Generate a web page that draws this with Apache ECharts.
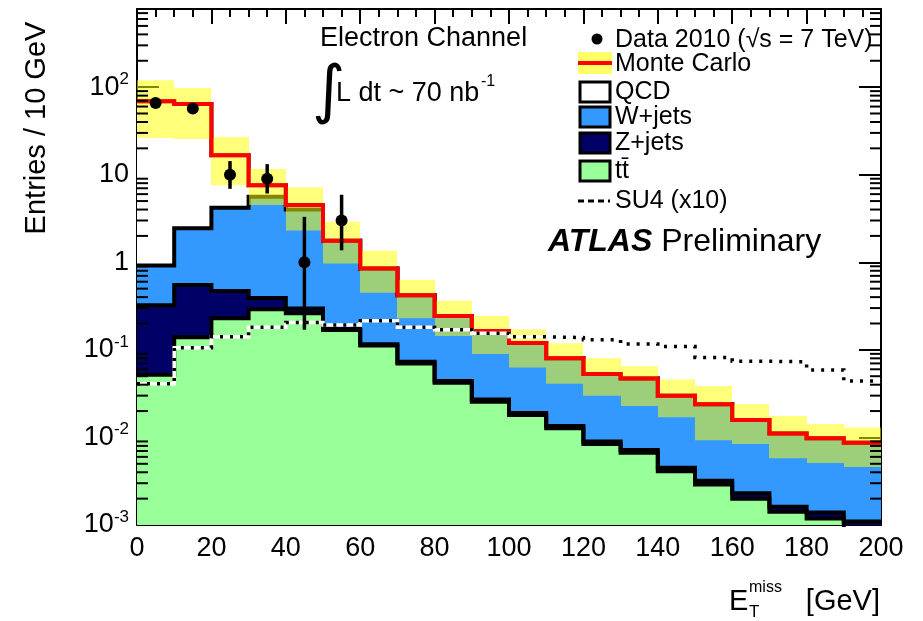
<!DOCTYPE html>
<html>
<head>
<meta charset="utf-8">
<script src="https://cdn.jsdelivr.net/npm/echarts@6/dist/echarts.min.js"></script>
<style>
  html, body { margin: 0; padding: 0; background: #fff; }
  #chart { width: 923px; height: 621px; }
</style>
</head>
<body>
<div id="chart"></div>
<script>
// Missing transverse energy, electron channel, 10 GeV bins from 0 to 200 GeV
const binStart = [0, 10, 20, 30, 40, 50, 60, 70, 80, 90, 100, 110, 120, 130, 140, 150, 160, 170, 180, 190];
const BIN_WIDTH = 10;

// Monte Carlo contributions per bin (entries / 10 GeV)
const ttbar = [0.052, 0.139, 0.229, 0.29, 0.261, 0.168, 0.112, 0.070, 0.042, 0.0256,
               0.018, 0.0127, 0.0084, 0.0067, 0.0041, 0.0029, 0.0020, 0.00142, 0.00119, 0.0008];
const zjets = [0.27, 0.41, 0.24, 0.10, 0.035, 0.006, 0.004, 0.003, 0.002, 0.0015,
               0.001, 0.0008, 0.0006, 0.0005, 0.0004, 0.0003, 0.0003, 0.0002, 0.0002, 0.0003];
const wjets = [0.595, 1.89, 3.73, 5.21, 3.70, 1.59, 0.734, 0.347, 0.199, 0.137,
               0.101, 0.0665, 0.044, 0.0398, 0.0255, 0.0208, 0.0135, 0.0095, 0.0084, 0.0076];
const qcd   = [68.1, 61.6, 12.5, 2.0, 0.5, 0, 0, 0, 0, 0,
               0, 0, 0, 0, 0, 0, 0, 0, 0, 0];

// Monte Carlo uncertainty band
const mcUp   = [120, 97.5, 27, 11.6, 7.2, 2.9, 1.35, 0.63, 0.364, 0.243,
                0.171, 0.119, 0.080, 0.065, 0.046, 0.0386, 0.024, 0.0176, 0.0142, 0.013];
const mcDown = [26.2, 25.5, 7.6, 4.5, 2.3, 0.97, 0.45, 0.23, 0.144, 0.0896,
                0.063, 0.041, 0.030, 0.0228, 0.017, 0.0093, 0.0084, 0.0058, 0.0051, 0.0046];

// SUSY benchmark SU4, scaled by 10
const su4x10 = [0.041, 0.106, 0.141, 0.181, 0.205, 0.192, 0.215, 0.181, 0.17, 0.155,
                0.141, 0.138, 0.13, 0.117, 0.109, 0.082, 0.074, 0.073, 0.059, 0.044];

// Data 2010 (bin centres, counts, 68% Poisson interval)
const dataCentre = [5, 15, 25, 35, 45, 55];
const dataCounts = [66, 57, 10, 9, 1, 3];
const dataLow    = [58, 49.5, 6.9, 6.1, 0.17, 1.37];
const dataHigh   = [75, 65, 14.3, 13.2, 3.3, 5.9];

// Axis ticks
const xTicks = [0, 20, 40, 60, 80, 100, 120, 140, 160, 180, 200];
const yTickLabels = { '0.001': ['10', '-3'], '0.01': ['10', '-2'], '0.1': ['10', '-1'],
                      '1': ['1', ''], '10': ['10', ''], '100': ['10', '2'] };

const Y_MIN = 1e-3, Y_MAX = 780;
const X_MIN = xTicks[0], X_MAX = xTicks[xTicks.length - 1];
const FONT = '"Liberation Sans", Arial, Helvetica, sans-serif';

const C_QCD = '#ffffff', C_W = '#3399ff', C_Z = '#000066', C_TT = '#99ff99';

// cumulative stack levels
const sumArr = (a, b) => a.map((v, i) => v + b[i]);
const lvlTT = ttbar;
const lvlZ = sumArr(lvlTT, zjets);
const lvlW = sumArr(lvlZ, wjets);
const lvlTot = sumArr(lvlW, qcd);

function stepPoints(vals) {
  const pts = binStart.map((x, i) => [x, vals[i]]);
  pts.push([binStart[binStart.length - 1] + BIN_WIDTH, vals[vals.length - 1]]);
  return pts;
}

function barRect(api, x0, lo, hi) {
  const a = api.coord([x0, hi]);
  const b = api.coord([x0 + BIN_WIDTH, Math.max(lo, Y_MIN)]);
  return { x: Math.round(a[0]), y: a[1], width: Math.round(b[0]) - Math.round(a[0]), height: b[1] - a[1] };
}

function fillLayer(name, base, top, fill, z) {
  return {
    type: 'custom', name, clip: true, z, silent: true, animation: false,
    encode: { x: 0, y: [1, 2] },
    data: binStart.map((x, i) => [x, base ? base[i] : Y_MIN, top[i]]),
    renderItem: (params, api) => {
      const lo = Math.max(api.value(1), Y_MIN), hi = api.value(2);
      if (!(hi > lo)) return null;
      return { type: 'rect', shape: barRect(api, api.value(0), lo, hi), style: { fill } };
    }
  };
}

function stepLine(name, vals, color, width, z, dash) {
  return {
    type: 'line', name, step: 'end', data: stepPoints(vals),
    symbol: 'none', showSymbol: false, silent: true, animation: false, clip: true, z,
    lineStyle: { color, width, type: dash || 'solid', cap: 'butt', join: 'miter' }
  };
}

// minor ticks of the log axis at 2..9 x 10^n
const logMinor = [];
for (let e = -3; e <= 2; e++) {
  for (let k = 2; k <= 9; k++) {
    const v = k * Math.pow(10, e);
    if (v < Y_MAX) logMinor.push([X_MIN, v]);
  }
}

const series = [
  fillLayer('QCD', null, lvlTot, C_QCD, 2),
  fillLayer('W+jets', null, lvlW, C_W, 3),
  fillLayer('Z+jets', null, lvlZ, C_Z, 4),
  fillLayer('ttbar', null, lvlTT, C_TT, 5),
  stepLine('QCD outline', lvlTot, '#000', 4, 6),
  stepLine('W outline', lvlW, '#000', 4, 6),
  stepLine('Z outline', lvlZ, '#000', 4, 6),
  stepLine('tt outline', lvlTT, '#000', 4, 6),
  {
    type: 'custom', name: 'MC uncertainty', clip: true, z: 7, silent: true, animation: false,
    encode: { x: 0, y: [1, 2] },
    data: binStart.map((x, i) => [x, mcDown[i], mcUp[i]]),
    renderItem: (params, api) => ({
      type: 'rect', shape: barRect(api, api.value(0), api.value(1), api.value(2)),
      style: { fill: 'rgba(255,255,0,0.52)' }
    })
  },
  stepLine('Monte Carlo', lvlTot, '#ff0000', 4, 8),
  stepLine('SU4 base', su4x10, '#ffffff', 3.5, 9),
  stepLine('SU4 (x10)', su4x10, '#000000', 3.5, 10, [3, 7]),
  {
    type: 'custom', name: 'Data 2010', clip: true, z: 11, silent: true, animation: false,
    encode: { x: 0, y: 1 },
    data: dataCentre.map((x, i) => [x, dataCounts[i], dataLow[i], dataHigh[i]]),
    renderItem: (params, api) => {
      const c = api.coord([api.value(0), api.value(1)]);
      const lo = api.coord([api.value(0), Math.max(api.value(2), Y_MIN)]);
      const hi = api.coord([api.value(0), api.value(3)]);
      return {
        type: 'group', children: [
          { type: 'line', shape: { x1: c[0], y1: lo[1], x2: c[0], y2: hi[1] }, style: { stroke: '#000', lineWidth: 3.5 } },
          { type: 'circle', shape: { cx: c[0], cy: c[1], r: 6 }, style: { fill: '#000' } }
        ]
      };
    }
  },
  {
    type: 'custom', name: 'log minor ticks', clip: false, z: 12, silent: true, animation: false,
    encode: { x: 0, y: 1 },
    data: logMinor,
    renderItem: (params, api) => {
      const l = api.coord([X_MIN, api.value(1)]);
      const r = api.coord([X_MAX, api.value(1)]);
      return {
        type: 'group', children: [
          { type: 'line', shape: { x1: l[0], y1: l[1], x2: l[0] + 11, y2: l[1] }, style: { stroke: '#000', lineWidth: 2 } },
          { type: 'line', shape: { x1: r[0], y1: r[1], x2: r[0] - 11, y2: r[1] }, style: { stroke: '#000', lineWidth: 2 } }
        ]
      };
    }
  }
];

const axisLine = { show: true, onZero: false, lineStyle: { color: '#000', width: 2 } };

const xAxisBase = {
  type: 'value', min: X_MIN, max: X_MAX, interval: 20,
  axisLine, splitLine: { show: false },
  axisTick: { show: true, inside: true, length: 15, lineStyle: { color: '#000', width: 2 } },
  minorTick: { show: true, splitNumber: 4, length: 8, lineStyle: { color: '#000', width: 2 } }
};

const yAxisBase = {
  type: 'log', logBase: 10, min: Y_MIN, max: Y_MAX, splitNumber: 6,
  axisLine, splitLine: { show: false },
  axisTick: { show: true, inside: true, length: 22, lineStyle: { color: '#000', width: 2 } }
};

function yLabel(v) {
  const key = String(+v.toPrecision(3));
  const t = yTickLabels[key];
  if (!t) return '';
  return t[1] ? '{b|' + t[0] + '}{s|' + t[1] + '}' : '{b|' + t[0] + '}';
}

function text(x, y, str, size, extra) {
  return {
    type: 'text', x, y, silent: true, z: 100,
    style: Object.assign({ text: str, fontSize: size, fontFamily: FONT, fill: '#000',
                           align: 'left', verticalAlign: 'middle' }, extra || {})
  };
}

function legendBox(y, fill) {
  return { type: 'rect', silent: true, z: 100, shape: { x: 580, y: y - 10, width: 30, height: 20 },
           style: { fill, stroke: '#000', lineWidth: 3 } };
}

const graphic = [
  // axis titles
  text(37, 128, 'Entries / 10 GeV', 29, { align: 'center' }),
  text(729, 602, 'E', 29),
  text(749, 588, 'miss', 16),
  text(749, 612, 'T', 17),
  text(880, 602, '[GeV]', 29, { align: 'right' }),
  // channel and luminosity
  text(320, 39, 'Electron Channel', 27),
  text(312, 94, '\u222B', 64, { fontFamily: '"DejaVu Sans", sans-serif' }),
  text(336, 94, 'L dt ~ 70 nb', 27),
  text(481, 82, '-1', 16),
  // legend
  { type: 'circle', silent: true, z: 100, shape: { cx: 597, cy: 39, r: 5.5 }, style: { fill: '#000' } },
  text(615, 40, 'Data 2010 (\u221As = 7 TeV)', 25),
  { type: 'rect', silent: true, z: 100, shape: { x: 578, y: 52, width: 34, height: 22 }, style: { fill: '#ffff66' } },
  { type: 'line', silent: true, z: 101, shape: { x1: 578, y1: 63, x2: 612, y2: 63 }, style: { stroke: '#ff0000', lineWidth: 4 } },
  text(615, 64, 'Monte Carlo', 25),
  legendBox(92, C_QCD), text(615, 92, 'QCD', 25),
  legendBox(117, C_W), text(615, 117, 'W+jets', 25),
  legendBox(143, C_Z), text(615, 143, 'Z+jets', 25),
  legendBox(171, C_TT), text(615, 171, 't\u0074\u0304', 25),
  { type: 'line', silent: true, z: 100, shape: { x1: 578, y1: 201, x2: 610, y2: 201 },
    style: { stroke: '#000', lineWidth: 3, lineDash: [6, 4] } },
  text(615, 201, 'SU4 (x10)', 25),
  // experiment label
  text(548, 242, '{a|ATLAS} {b|Preliminary}', 32, {
    rich: {
      a: { fontSize: 32, fontFamily: FONT, fontWeight: 'bold', fontStyle: 'italic', fill: '#000' },
      b: { fontSize: 32, fontFamily: FONT, fill: '#000' }
    }
  })
];
// rotate y-axis title
graphic[0].rotation = Math.PI / 2;

const chart = echarts.init(document.getElementById('chart'), null, { renderer: 'canvas' });
chart.setOption({
  animation: false,
  backgroundColor: '#ffffff',
  grid: { left: 137, top: 9, right: 42, bottom: 96, containLabel: false },
  xAxis: [
    Object.assign({}, xAxisBase, {
      position: 'bottom',
      axisLabel: { show: true, margin: 10, fontSize: 27, fontFamily: FONT, color: '#000',
                   showMinLabel: true, showMaxLabel: true }
    }),
    Object.assign({}, xAxisBase, { position: 'top', axisLabel: { show: false } })
  ],
  yAxis: [
    Object.assign({}, yAxisBase, {
      position: 'left',
      axisLabel: {
        show: true, margin: 8, showMaxLabel: false, formatter: yLabel,
        rich: {
          b: { fontSize: 27, fontFamily: FONT, color: '#000' },
          s: { fontSize: 17, fontFamily: FONT, color: '#000', padding: [0, 0, 16, 0] }
        }
      }
    }),
    Object.assign({}, yAxisBase, { position: 'right', axisLabel: { show: false } })
  ],
  graphic,
  series
});
</script>
</body>
</html>
